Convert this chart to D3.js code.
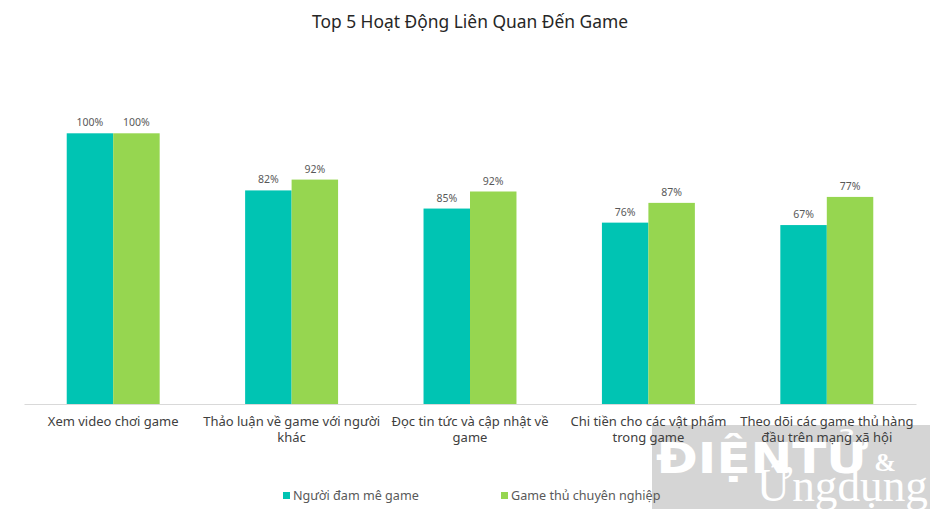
<!DOCTYPE html>
<html>
<head>
<meta charset="utf-8">
<script src="https://cdn.jsdelivr.net/npm/d3@7"></script>
<style>
  html, body { margin: 0; padding: 0; background: #fff; }
  svg { display: block; font-family: "Noto Sans", "Open Sans", sans-serif; }
</style>
</head>
<body>
<svg id="chart" width="940" height="520"></svg>
<script>
// ---- data ----
const categories = [
  ["Xem video chơi game"],
  ["Thảo luận về game với người", "khác"],
  ["Đọc tin tức và cập nhật về", "game"],
  ["Chi tiền cho các vật phẩm", "trong game"],
  ["Theo dõi các game thủ hàng", "đầu trên mạng xã hội"]
];
const seriesNames = ["Người đam mê game", "Game thủ chuyên nghiệp"];
// bar heights as drawn in the picture
const enthusiastValues = [100, 78.9, 72.2, 67.0, 66.1];
const proValues = [100, 82.9, 78.5, 74.3, 76.5];
// value labels as printed on the picture
const enthusiastLabels = ["100%", "82%", "85%", "76%", "67%"];
const proLabels = ["100%", "92%", "92%", "87%", "77%"];
const colors = ["#00C4B3", "#96D650"];

const svg = d3.select("#chart");
const baseY = 404;

const x0 = d3.scaleBand().domain(d3.range(categories.length))
  .range([24, 916]).paddingInner(0.479).paddingOuter(0.2395);
const x1 = d3.scaleBand().domain([0, 1]).range([0, x0.bandwidth()]);
const y = d3.scaleLinear().domain([0, 100]).range([baseY, 133.3]);

// watermark (behind the chart)
const wm = svg.append("g");
wm.append("rect").attr("x", 652).attr("y", 425).attr("width", 278).attr("height", 84)
  .attr("fill", "#d5d5d5");
wm.append("text").attr("x", 656).attr("y", 473).attr("font-size", 42).attr("font-weight", "bold")
  .attr("font-family", "DejaVu Sans").attr("fill", "#fff")
  .attr("textLength", 212).attr("lengthAdjust", "spacingAndGlyphs")
  .text("ĐIỆNTỬ");
wm.append("text").attr("x", 885).attr("y", 471).attr("font-size", 26).attr("font-weight", "bold")
  .attr("font-family", "Liberation Serif").attr("fill", "#fff").attr("text-anchor", "middle")
  .text("&");
wm.append("text").attr("x", 757).attr("y", 501).attr("font-size", 46)
  .attr("font-family", "Liberation Serif").attr("fill", "#fff")
  .attr("textLength", 171).attr("lengthAdjust", "spacingAndGlyphs")
  .text("Ứngdụng");

// title
svg.append("text").attr("x", 470).attr("y", 28)
  .attr("text-anchor", "middle").attr("font-size", 17.4).attr("fill", "#262626")
  .text("Top 5 Hoạt Động Liên Quan Đến Game");

const series = [enthusiastValues, proValues];
const labels = [enthusiastLabels, proLabels];

const groups = svg.append("g").selectAll("g")
  .data(categories.map((c, i) => i)).join("g")
  .attr("transform", i => `translate(${x0(i)},0)`);

groups.selectAll("rect")
  .data(i => [0, 1].map(s => ({s, v: series[s][i], l: labels[s][i]})))
  .join("rect")
  .attr("x", d => x1(d.s))
  .attr("y", d => y(d.v))
  .attr("width", x1.bandwidth())
  .attr("height", d => baseY - y(d.v))
  .attr("fill", d => colors[d.s]);

groups.selectAll("text.val")
  .data(i => [0, 1].map(s => ({s, v: series[s][i], l: labels[s][i]})))
  .join("text").attr("class", "val")
  .attr("x", d => x1(d.s) + x1.bandwidth() / 2)
  .attr("y", d => y(d.v) - 7)
  .attr("text-anchor", "middle").attr("font-size", 10.5).attr("fill", "#595959")
  .text(d => d.l);

// axis line
const axis = d3.axisBottom(x0).tickSize(0).tickFormat("");
const ax = svg.append("g").attr("transform", `translate(0,${baseY})`).call(axis);
ax.select(".domain").attr("stroke", "#d9d9d9").attr("stroke-width", 1);

// category labels
const cat = svg.append("g").selectAll("text")
  .data(categories).join("text")
  .attr("x", (d, i) => x0(i) + x0.bandwidth() / 2)
  .attr("y", 426)
  .attr("text-anchor", "middle").attr("font-size", 13).attr("fill", "#404040");
cat.selectAll("tspan").data(d => d).join("tspan")
  .attr("x", function() { return d3.select(this.parentNode).attr("x"); })
  .attr("dy", (d, i) => i === 0 ? 0 : 16)
  .text(d => d);

// legend
const legendX = [283, 501];
const leg = svg.append("g").selectAll("g").data(seriesNames).join("g")
  .attr("transform", (d, i) => `translate(${legendX[i]},492)`);
leg.append("rect").attr("width", 7).attr("height", 7).attr("fill", (d, i) => colors[i]);
leg.append("text").attr("x", 10).attr("y", 8).attr("font-size", 12.6).attr("fill", "#595959")
  .text(d => d);
</script>
</body>
</html>
